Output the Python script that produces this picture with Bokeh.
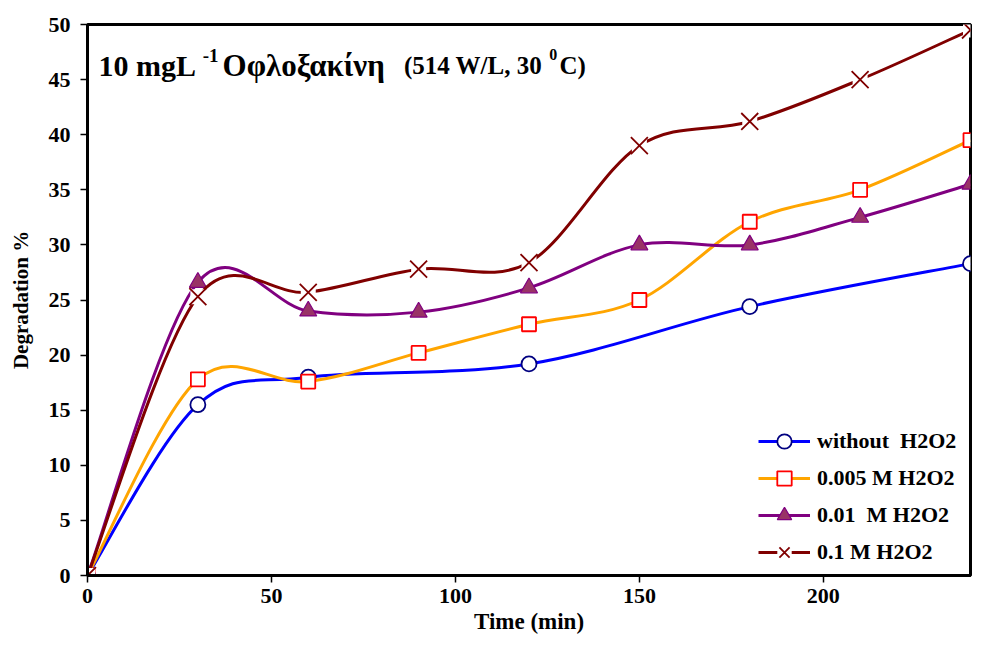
from bokeh.plotting import figure
from bokeh.models import Range1d, Label, Legend, LegendItem, FixedTicker
from bokeh.embed import file_html
from bokeh.resources import INLINE

# ---- data ----
time_blue = [0, 30, 60, 120, 180, 240]
deg_blue = [0, 15.5, 18.0, 19.2, 24.4, 28.3]

time_all = [0, 30, 60, 90, 120, 150, 180, 210, 240]
deg_orange = [0, 17.8, 17.6, 20.2, 22.8, 25.0, 32.1, 35.0, 39.5]
deg_purple = [0, 26.6, 24.0, 23.9, 26.1, 30.0, 30.0, 32.5, 35.5]
deg_brown = [0, 25.3, 25.7, 27.8, 28.4, 39.0, 41.2, 45.0, 49.5]

x_ticks = [0, 50, 100, 150, 200]
y_ticks = [0, 5, 10, 15, 20, 25, 30, 35, 40, 45, 50]

labels = ["without  H2O2", "0.005 M H2O2", "0.01  M H2O2", "0.1 M H2O2"]

FONT = "Liberation Serif"


def smooth(xs, ys):
    """Excel-like smoothed line: cubic Bezier segments (Catmull-Rom, factor 1/6)."""
    n = len(xs)
    out = dict(x0=[], y0=[], x1=[], y1=[], cx0=[], cy0=[], cx1=[], cy1=[])
    for i in range(n - 1):
        ip = max(i - 1, 0)
        inn = min(i + 2, n - 1)
        out["x0"].append(xs[i]); out["y0"].append(ys[i])
        out["x1"].append(xs[i + 1]); out["y1"].append(ys[i + 1])
        out["cx0"].append(xs[i] + (xs[i + 1] - xs[ip]) / 6.0)
        out["cy0"].append(ys[i] + (ys[i + 1] - ys[ip]) / 6.0)
        out["cx1"].append(xs[i + 1] - (xs[inn] - xs[i]) / 6.0)
        out["cy1"].append(ys[i + 1] - (ys[inn] - ys[i]) / 6.0)
    return out


p = figure(width=972, height=641, output_backend="svg", toolbar_location=None,
           x_range=Range1d(0, 240), y_range=Range1d(0, 50),
           min_border_left=87, min_border_right=2, min_border_top=24, min_border_bottom=66)

p.xgrid.visible = False
p.ygrid.visible = False
p.outline_line_color = "black"
p.outline_line_width = 3
p.background_fill_color = "white"
p.border_fill_color = "white"

for ax in (p.xaxis[0], p.yaxis[0]):
    ax.axis_line_width = 3
    ax.axis_line_color = "black"
    ax.major_tick_line_width = 1.5
    ax.major_tick_out = 7
    ax.major_tick_in = 0
    ax.minor_tick_out = 0
    ax.minor_tick_in = 0
    ax.major_label_text_font = FONT
    ax.major_label_text_font_style = "bold"
    ax.major_label_text_font_size = "22px"
    ax.major_label_text_color = "black"
    ax.axis_label_text_font = FONT
    ax.axis_label_text_font_style = "bold"
    ax.axis_label_text_color = "black"

p.xaxis.axis_label_text_font_size = "23px"
p.yaxis.axis_label_text_font_size = "21px"
p.xaxis.ticker = FixedTicker(ticks=x_ticks)
p.yaxis.ticker = FixedTicker(ticks=y_ticks)
p.xaxis.axis_label = "Time (min)"
p.yaxis.axis_label = "Degradation %"
p.xaxis.major_label_standoff = 6
p.yaxis.major_label_standoff = 10
p.xaxis.axis_label_standoff = 3
p.yaxis.axis_label_standoff = 13

# ---- series ----
sb = smooth(time_blue, deg_blue)
so = smooth(time_all, deg_orange)
sp = smooth(time_all, deg_purple)
sr = smooth(time_all, deg_brown)

bz_b = p.bezier(source=sb, x0="x0", y0="y0", x1="x1", y1="y1", cx0="cx0", cy0="cy0",
                cx1="cx1", cy1="cy1", line_color="#0000FF", line_width=3)
mk_b = p.scatter(time_blue, deg_blue, marker="circle", size=15, fill_color="white",
                 line_color="#000080", line_width=1.8)

bz_o = p.bezier(source=so, x0="x0", y0="y0", x1="x1", y1="y1", cx0="cx0", cy0="cy0",
                cx1="cx1", cy1="cy1", line_color="#FFA500", line_width=3)
mk_o = p.scatter(time_all, deg_orange, marker="square", size=14, fill_color="white",
                 line_color="#FF0000", line_width=1.8)

bz_p = p.bezier(source=sp, x0="x0", y0="y0", x1="x1", y1="y1", cx0="cx0", cy0="cy0",
                cx1="cx1", cy1="cy1", line_color="#800080", line_width=3)
mk_p = p.scatter(time_all, deg_purple, marker="triangle", size=17, fill_color="#993366",
                 line_color="#800080", line_width=1.2)

bz_r = p.bezier(source=sr, x0="x0", y0="y0", x1="x1", y1="y1", cx0="cx0", cy0="cy0",
                cx1="cx1", cy1="cy1", line_color="#800000", line_width=3)
bg_r = p.scatter(time_all, deg_brown, marker="square", size=15, fill_color="white",
                 line_color=None)
mk_r = p.scatter(time_all, deg_brown, marker="x", size=24, line_color="#800000",
                 line_width=1.8)

legend = Legend(items=[
    LegendItem(label=labels[0], renderers=[bz_b, mk_b]),
    LegendItem(label=labels[1], renderers=[bz_o, mk_o]),
    LegendItem(label=labels[2], renderers=[bz_p, mk_p]),
    LegendItem(label=labels[3], renderers=[bz_r, bg_r, mk_r]),
], location=(671, 5))
legend.border_line_color = None
legend.background_fill_color = "white"
legend.background_fill_alpha = 1.0
legend.label_text_font = FONT
legend.label_text_font_style = "bold"
legend.label_text_font_size = "22px"
legend.label_text_color = "black"
legend.glyph_width = 52
legend.glyph_height = 36
legend.label_height = 36
legend.label_standoff = 7
legend.spacing = 1
legend.padding = 5
legend.margin = 0
p.add_layout(legend, "center")

# ---- title inside the plot ----
def lab(x, y, text, size):
    p.add_layout(Label(x=x, y=y, text=text, text_font=FONT, text_font_style="bold",
                       text_font_size=size, text_color="black",
                       text_baseline="alphabetic", text_align="left"))

lab(3.0, 46.3, "10 mgL", "30px")
lab(31.3, 47.2, "-1", "19px")
lab(36.7, 46.3, "Οφλοξακίνη", "31px")
lab(86.0, 46.3, "(514 W/L, 30", "25px")
lab(125.5, 47.3, "0", "16px")
lab(128.3, 46.3, "C)", "25px")

open("out.html", "w").write(file_html(p, INLINE))
